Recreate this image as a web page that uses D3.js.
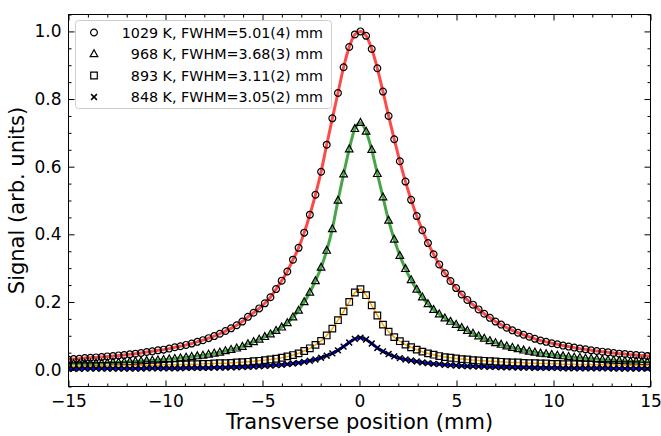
<!DOCTYPE html>
<html>
<head>
<meta charset="utf-8">
<script src="https://d3js.org/d3.v7.min.js"></script>
<style>
body { margin: 0; background: #fff; }
svg { display: block; font-family: "DejaVu Sans", sans-serif; }
</style>
</head>
<body>
<svg id="chart" width="661" height="436"></svg>
<script>
// sample grid of the scan (mm)
var positions = d3.range(-52, 53).map(function(k) { return +(0.05 + 0.29 * k).toFixed(2); });

var red = [0.030, 0.031, 0.032, 0.034, 0.035, 0.036, 0.037, 0.039, 0.040, 0.042, 0.043, 0.045, 0.047, 0.049, 0.052, 0.054,
	0.057, 0.059, 0.062, 0.066, 0.069, 0.073, 0.077, 0.082, 0.087, 0.093, 0.099, 0.106, 0.114, 0.122, 0.131, 0.142,
	0.156, 0.168, 0.181, 0.196, 0.214, 0.238, 0.263, 0.290, 0.325, 0.360, 0.405, 0.458, 0.517, 0.585, 0.665, 0.743,
	0.818, 0.894, 0.954, 0.991,
	1.000, 0.987, 0.948, 0.891, 0.822, 0.750, 0.681, 0.616, 0.556, 0.502, 0.454, 0.412, 0.374, 0.341, 0.311, 0.285,
	0.262, 0.241, 0.222, 0.206, 0.192, 0.178, 0.165, 0.153, 0.142, 0.133, 0.124, 0.116, 0.109, 0.103, 0.097, 0.091,
	0.086, 0.082, 0.078, 0.075, 0.071, 0.068, 0.065, 0.062, 0.060, 0.057, 0.055, 0.053, 0.051, 0.049, 0.047, 0.046,
	0.044, 0.043, 0.042, 0.040, 0.039];

var green = [0.016, 0.017, 0.017, 0.018, 0.018, 0.019, 0.019, 0.020, 0.021, 0.021, 0.022, 0.023, 0.024, 0.025, 0.026, 0.027,
	0.028, 0.029, 0.031, 0.032, 0.034, 0.036, 0.038, 0.040, 0.042, 0.045, 0.048, 0.051, 0.055, 0.059, 0.063, 0.068,
	0.076, 0.082, 0.089, 0.097, 0.105, 0.115, 0.125, 0.138, 0.155, 0.175, 0.200, 0.228, 0.262, 0.302, 0.352, 0.416,
	0.500, 0.578, 0.652, 0.712,
	0.730, 0.704, 0.650, 0.579, 0.510, 0.441, 0.385, 0.337, 0.298, 0.265, 0.237, 0.214, 0.194, 0.177, 0.164, 0.152,
	0.142, 0.133, 0.124, 0.115, 0.107, 0.099, 0.092, 0.085, 0.079, 0.074, 0.069, 0.065, 0.061, 0.057, 0.054, 0.051,
	0.048, 0.046, 0.044, 0.042, 0.040, 0.038, 0.036, 0.035, 0.033, 0.032, 0.031, 0.029, 0.028, 0.027, 0.026, 0.025,
	0.024, 0.024, 0.023, 0.022, 0.022];

var yellow = [0.009, 0.010, 0.010, 0.010, 0.010, 0.010, 0.011, 0.011, 0.011, 0.011, 0.012, 0.012, 0.012, 0.012, 0.013, 0.013,
	0.013, 0.014, 0.014, 0.014, 0.015, 0.015, 0.016, 0.016, 0.017, 0.017, 0.018, 0.019, 0.019, 0.020, 0.021, 0.022,
	0.023, 0.025, 0.026, 0.028, 0.030, 0.032, 0.035, 0.039, 0.043, 0.048, 0.055, 0.063, 0.073, 0.085, 0.101, 0.121,
	0.146, 0.172, 0.200, 0.228,
	0.238, 0.220, 0.190, 0.160, 0.133, 0.112, 0.096, 0.084, 0.074, 0.066, 0.059, 0.053, 0.048, 0.044, 0.040, 0.037,
	0.035, 0.033, 0.031, 0.030, 0.028, 0.027, 0.026, 0.025, 0.024, 0.023, 0.022, 0.021, 0.021, 0.020, 0.019, 0.019,
	0.018, 0.018, 0.017, 0.017, 0.016, 0.016, 0.016, 0.015, 0.015, 0.015, 0.014, 0.014, 0.014, 0.014, 0.013, 0.013,
	0.013, 0.013, 0.012, 0.012, 0.012];

var blue = [0.002, 0.002, 0.002, 0.003, 0.003, 0.003, 0.003, 0.003, 0.003, 0.003, 0.003, 0.003, 0.003, 0.003, 0.004, 0.004,
	0.004, 0.004, 0.004, 0.004, 0.004, 0.005, 0.005, 0.005, 0.005, 0.005, 0.006, 0.006, 0.006, 0.007, 0.007, 0.008,
	0.008, 0.009, 0.010, 0.011, 0.012, 0.013, 0.014, 0.016, 0.018, 0.020, 0.023, 0.026, 0.030, 0.035, 0.041, 0.048,
	0.057, 0.068, 0.080, 0.091,
	0.094, 0.089, 0.077, 0.064, 0.054, 0.046, 0.039, 0.034, 0.030, 0.027, 0.024, 0.021, 0.019, 0.017, 0.016, 0.014,
	0.013, 0.012, 0.011, 0.010, 0.010, 0.009, 0.009, 0.008, 0.008, 0.007, 0.007, 0.007, 0.006, 0.006, 0.006, 0.005,
	0.005, 0.005, 0.005, 0.005, 0.004, 0.004, 0.004, 0.004, 0.004, 0.004, 0.004, 0.004, 0.004, 0.003, 0.003, 0.003,
	0.003, 0.003, 0.003, 0.003, 0.003];

var legendLabels = ["1029 K, FWHM=5.01(4) mm", "968 K, FWHM=3.68(3) mm", "893 K, FWHM=3.11(2) mm", "848 K, FWHM=3.05(2) mm"];
var xTicks = [-15, -10, -5, 0, 5, 10, 15];
var yTicks = [0, 0.2, 0.4, 0.6, 0.8, 1.0];

var series = [
	{ values: red, marker: 'circle', color: '#ff4a4a', width: 3 },
	{ values: green, marker: 'triangle', color: '#46a546', width: 3 },
	{ values: yellow, marker: 'square', color: '#ffa500', width: 1.5 },
	{ values: blue, marker: 'cross', color: '#0000ff', width: 3 }
];

var plot = { left: 68.5, right: 650.5, top: 14.5, bottom: 386.5 };

var svg = d3.select('#chart');

var x = d3.scaleLinear().domain([-15, 15]).range([plot.left, plot.right]);
var y = d3.scaleLinear().domain([-0.05, 1.05]).range([plot.bottom, plot.top]);

function markerPath(type) {
	if (type == 'circle') return d3.symbol().type(d3.symbolCircle).size(Math.PI * 3.4 * 3.4)();
	if (type == 'triangle') return 'M0,-4.2L3.8,2.7L-3.8,2.7Z';
	if (type == 'square') return 'M-3.3,-3.3H3.3V3.3H-3.3Z';
	return 'M-2.9,-2.9L2.9,2.9M-2.9,2.9L2.9,-2.9';
}

svg.append('defs').append('clipPath').attr('id', 'plotclip')
	.append('rect')
	.attr('x', plot.left).attr('y', plot.top)
	.attr('width', plot.right - plot.left).attr('height', plot.bottom - plot.top);

var body = svg.append('g').attr('clip-path', 'url(#plotclip)');

var line = d3.line()
	.x(function(d) { return x(d[0]); })
	.y(function(d) { return y(d[1]); })
	.curve(d3.curveMonotoneX);

series.forEach(function(s) {
	var pts = positions.map(function(p, i) { return [p, s.values[i]]; });
	var g = body.append('g');

	g.append('path')
		.datum(pts)
		.attr('d', line)
		.style('fill', 'none')
		.style('stroke', s.color)
		.style('stroke-width', s.width)
		.style('stroke-linejoin', 'round');

	g.selectAll('path.mk')
		.data(pts)
		.enter().append('path')
		.attr('class', 'mk')
		.attr('d', markerPath(s.marker))
		.attr('transform', function(d) { return 'translate(' + x(d[0]) + ',' + y(d[1]) + ')'; })
		.style('fill', 'none')
		.style('stroke', '#000')
		.style('stroke-width', s.marker == 'cross' ? 1.5 : 1.2);
});

// ticks point inward on all four sides
function styleAxis(g) {
	g.select('.domain').remove();
	g.selectAll('.tick line').style('stroke', '#000').style('stroke-width', 1);
	g.selectAll('.tick text').style('font-family', '"DejaVu Sans", sans-serif').style('font-size', '17px').style('fill', '#000');
}

var xMinor = d3.range(-15, 16).filter(function(v) { return v % 5 !== 0; });
var yMinor = d3.range(-1, 22).filter(function(i) { return i % 4 !== 0; }).map(function(i) { return i * 0.05; });

svg.append('g').attr('transform', 'translate(0,' + plot.bottom + ')')
	.call(d3.axisBottom(x).tickValues(xTicks).tickSize(-6).tickSizeOuter(0).tickPadding(8))
	.call(styleAxis);
svg.append('g').attr('transform', 'translate(0,' + plot.bottom + ')')
	.call(d3.axisBottom(x).tickValues(xMinor).tickSize(-3).tickSizeOuter(0).tickFormat(''))
	.call(styleAxis);
svg.append('g').attr('transform', 'translate(0,' + plot.top + ')')
	.call(d3.axisTop(x).tickValues(xTicks).tickSize(-6).tickSizeOuter(0).tickFormat(''))
	.call(styleAxis);
svg.append('g').attr('transform', 'translate(0,' + plot.top + ')')
	.call(d3.axisTop(x).tickValues(xMinor).tickSize(-3).tickSizeOuter(0).tickFormat(''))
	.call(styleAxis);

svg.append('g').attr('transform', 'translate(' + plot.left + ',0)')
	.call(d3.axisLeft(y).tickValues(yTicks).tickFormat(d3.format('.1f')).tickSize(-6).tickSizeOuter(0).tickPadding(7))
	.call(styleAxis);
svg.append('g').attr('transform', 'translate(' + plot.left + ',0)')
	.call(d3.axisLeft(y).tickValues(yMinor).tickSize(-3).tickSizeOuter(0).tickFormat(''))
	.call(styleAxis);
svg.append('g').attr('transform', 'translate(' + plot.right + ',0)')
	.call(d3.axisRight(y).tickValues(yTicks).tickSize(-6).tickSizeOuter(0).tickFormat(''))
	.call(styleAxis);
svg.append('g').attr('transform', 'translate(' + plot.right + ',0)')
	.call(d3.axisRight(y).tickValues(yMinor).tickSize(-3).tickSizeOuter(0).tickFormat(''))
	.call(styleAxis);

svg.append('rect')
	.attr('x', plot.left).attr('y', plot.top)
	.attr('width', plot.right - plot.left).attr('height', plot.bottom - plot.top)
	.style('fill', 'none').style('stroke', '#000').style('stroke-width', 1);

// axis titles
svg.append('text')
	.attr('x', (plot.left + plot.right) / 2).attr('y', 429)
	.attr('text-anchor', 'middle')
	.style('font-size', '21px')
	.text('Transverse position (mm)');
svg.append('text')
	.attr('transform', 'translate(24,' + (plot.top + plot.bottom) / 2 + ') rotate(-90)')
	.attr('text-anchor', 'middle')
	.style('font-size', '21px')
	.text('Signal (arb. units)');

// legend
var legend = svg.append('g');
legend.append('rect')
	.attr('x', 75.5).attr('y', 20.5).attr('width', 256).attr('height', 88).attr('rx', 3)
	.style('fill', '#fff').style('fill-opacity', 0.8)
	.style('stroke', '#cccccc').style('stroke-width', 1);

var rows = legend.selectAll('g.row')
	.data(series)
	.enter().append('g')
	.attr('class', 'row')
	.attr('transform', function(d, i) { return 'translate(0,' + (32.5 + i * 21.5) + ')'; });

rows.append('path')
	.attr('d', function(d) { return markerPath(d.marker); })
	.attr('transform', 'translate(94,0)')
	.style('fill', 'none')
	.style('stroke', '#000')
	.style('stroke-width', function(d) { return d.marker == 'cross' ? 1.5 : 1.2; });

rows.append('text')
	.attr('x', 323).attr('y', 5)
	.attr('text-anchor', 'end')
	.style('font-size', '14.3px')
	.text(function(d, i) { return legendLabels[i]; });
</script>
</body>
</html>
